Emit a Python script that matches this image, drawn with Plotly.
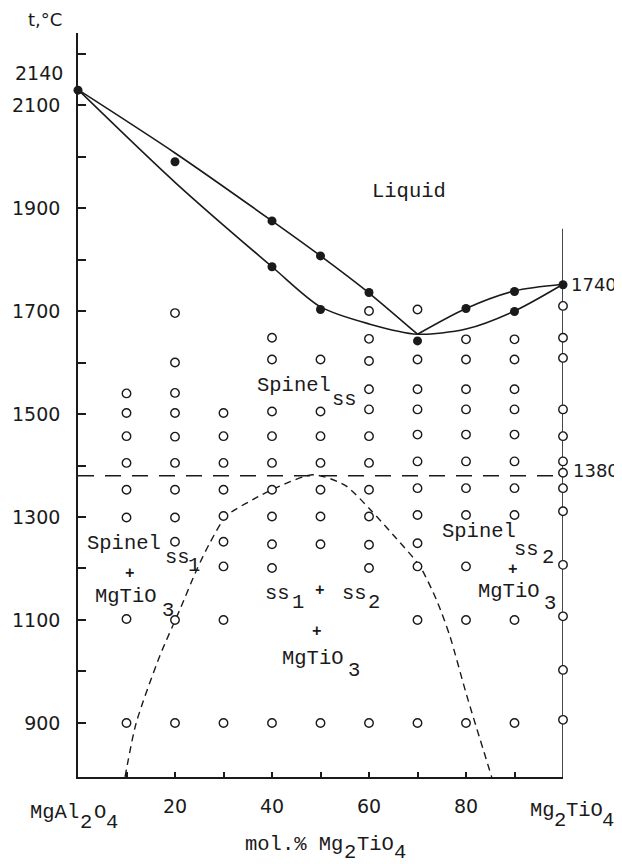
import plotly.graph_objects as go

# ---------------- data ----------------
# liquidus (upper curve), two branches meeting at the minimum
liq_left_x = [0, 20, 40, 50, 60, 70]
liq_left_t = [2130, 2007, 1875, 1807, 1735, 1655]
liq_right_x = [70, 80, 90, 100]
liq_right_t = [1655, 1705, 1739, 1752]
# solidus (lower curve)
sol_x = [0, 20, 40, 50, 60, 70, 80, 90, 100]
sol_t = [2130, 1950, 1786, 1708, 1675, 1655, 1665, 1700, 1752]
# miscibility gap (dashed dome)
gap_x = [9.7, 12, 16.9, 21, 24.5, 27.2, 30.6, 36.1, 41.6, 48.5, 55, 60.5, 65, 70.5, 74, 76.7, 80.1, 85.3]
gap_t = [795, 900, 1031, 1120, 1198, 1250, 1302, 1334, 1360, 1382, 1362, 1312, 1265, 1204, 1137, 1068, 955, 795]
eutectoid_t = 1380

# filled points (melting experiments)
filled_x = [0, 20, 40, 40, 50, 50, 60, 70, 80, 90, 90, 100]
filled_t = [2129, 1990, 1875, 1786, 1807, 1703, 1736, 1642, 1705, 1738, 1699, 1751]

# open points (annealing experiments), per composition column
col_10 = [1540, 1502, 1457, 1405, 1353, 1299, 1102, 900]
col_20 = [1696, 1600, 1541, 1502, 1456, 1405, 1353, 1299, 1252, 1100, 900]
col_30 = [1502, 1457, 1405, 1353, 1302, 1252, 1204, 1100, 900]
col_40 = [1648, 1606, 1505, 1457, 1405, 1353, 1301, 1247, 1201, 900]
col_50 = [1606, 1505, 1457, 1405, 1353, 1301, 1247, 900]
col_60 = [1700, 1646, 1603, 1548, 1509, 1457, 1405, 1353, 1301, 1246, 1201, 900]
col_70 = [1703, 1606, 1548, 1509, 1460, 1408, 1356, 1304, 1249, 1204, 1100, 900]
col_80 = [1645, 1606, 1548, 1509, 1460, 1408, 1356, 1304, 1204, 1100, 900]
col_90 = [1645, 1606, 1548, 1509, 1460, 1408, 1356, 1304, 1100, 900]
col_100 = [1710, 1648, 1609, 1509, 1457, 1408, 1386, 1356, 1311, 1207, 1107, 1003, 906]
columns = {10: col_10, 20: col_20, 30: col_30, 40: col_40, 50: col_50,
           60: col_60, 70: col_70, 80: col_80, 90: col_90, 100: col_100}

y_ticks = list(range(900, 2201, 100))
y_labels = ["900", "", "1100", "", "1300", "", "1500", "", "1700", "", "1900", "", "2100", ""]
x_ticks = [10, 20, 30, 40, 50, 60, 70, 80, 90]
x_labels = ["", "20", "", "40", "", "60", "", "80", ""]

# ---------------- figure ----------------
SANS = "DejaVu Sans"
MONO = "Liberation Mono"
INK = "#1a1a1a"
MONO_SIZE = 20.5
PLUS_SIZE = 16

# page body has an 8px margin; plot area sits at page px x 78..563, y 33..777
W, H = 614, 856
ML, MT, MR, MB = 70, 25, 59, 87
PX0, PY0 = ML + 8, MT + 8
PW, PH = W - ML - MR, H - MT - MB

open_x, open_t = [], []
for cx, temps in columns.items():
    open_x += [cx] * len(temps)
    open_t += temps

fig = go.Figure()
line_style = dict(color=INK, width=1.6, shape="spline", smoothing=0.8)
fig.add_trace(go.Scatter(x=liq_left_x, y=liq_left_t, mode="lines", line=line_style, cliponaxis=False))
fig.add_trace(go.Scatter(x=liq_right_x, y=liq_right_t, mode="lines", line=line_style, cliponaxis=False))
fig.add_trace(go.Scatter(x=sol_x, y=sol_t, mode="lines", line=line_style, cliponaxis=False))
fig.add_trace(go.Scatter(x=gap_x, y=gap_t, mode="lines",
                         line=dict(color=INK, width=1.4, dash="7px,5px", shape="spline", smoothing=0.7),
                         cliponaxis=False))
fig.add_trace(go.Scatter(x=[0, 100], y=[eutectoid_t, eutectoid_t], mode="lines",
                         line=dict(color=INK, width=1.6, dash="16px,11px"), cliponaxis=False))
fig.add_trace(go.Scatter(x=open_x, y=open_t, mode="markers", cliponaxis=False,
                         marker=dict(symbol="circle", size=8.5, color="white",
                                     line=dict(color=INK, width=1.4))))
fig.add_trace(go.Scatter(x=filled_x, y=filled_t, mode="markers", cliponaxis=False,
                         marker=dict(symbol="circle", size=9, color=INK,
                                     line=dict(color=INK, width=0))))

# right-hand boundary line at pure Mg2TiO4
fig.add_shape(type="line", x0=100, x1=100, y0=795, y1=1860, xref="x", yref="y",
              line=dict(color=INK, width=1.6), layer="below")


def T(text, px, py, size=MONO_SIZE, font=MONO, xanchor="left", box=True, weight="normal"):
    """Place a text at reference-page pixel position (px = anchor x, py = vertical centre)."""
    extra = {}
    if box:
        extra = dict(width=len(text) * 0.6 * size + 1, align="left")
    fig.add_annotation(text=text, x=(px - PX0) / PW, y=1 - (py - PY0) / PH,
                       xref="paper", yref="paper", showarrow=False,
                       xanchor=xanchor, yanchor="middle", borderpad=0,
                       font=dict(family=font, size=size, color=INK, weight=weight), **extra)


# axis-side numbers
T("t,°C", 45, 19, size=18, font=SANS, xanchor="center", box=False)
T("2140", 64, 73, size=19, font=SANS, xanchor="right", box=False)
T("1740", 570, 284, size=18, font=SANS, box=False)
T("1380", 572, 470, size=18, font=SANS, box=False)

# field labels (typewriter style, subscripts as lowered full-size characters)
T("Liquid", 409, 191, xanchor="center")

T("Spinel", 256, 385)
T("ss", 331, 399)

T("Spinel", 86, 543)
T("ss", 164, 557)
T("1", 187, 565)
T("+", 130, 574, size=PLUS_SIZE, xanchor="center", weight="bold")
T("MgTiO", 94, 596)
T("3", 161, 610)

T("ss", 264, 593)
T("1", 291, 602)
T("+", 320, 591, size=PLUS_SIZE, xanchor="center", weight="bold")
T("ss", 341, 593)
T("2", 367, 602)
T("+", 317, 632, size=PLUS_SIZE, xanchor="center", weight="bold")
T("MgTiO", 281, 658)
T("3", 347, 670)

T("Spinel", 441, 531)
T("ss", 513, 549)
T("2", 541, 557)
T("+", 513, 570, size=PLUS_SIZE, xanchor="center", weight="bold")
T("MgTiO", 477, 591)
T("3", 543, 603)

# composition end members and axis title
T("MgAl", 29, 812)
T("2", 79, 822)
T("O", 93, 812)
T("4", 105, 822)

T("Mg", 529, 810)
T("2", 553, 820)
T("TiO", 565, 810)
T("4", 601, 820)

T("mol.% Mg", 244, 845)
T("2", 343, 852)
T("TiO", 356, 845)
T("4", 393, 852)

fig.update_layout(
    width=W, height=H,
    margin=dict(l=ML, r=MR, t=MT, b=MB, autoexpand=False),
    paper_bgcolor="white", plot_bgcolor="white",
    showlegend=False,
    xaxis=dict(range=[0, 100], showgrid=False, zeroline=False, showline=True, automargin=False,
               linecolor=INK, linewidth=1.6, ticks="inside", ticklen=5, tickwidth=1.5,
               tickcolor=INK, tickvals=x_ticks, ticktext=x_labels,
               tickfont=dict(family=SANS, size=19, color=INK), ticklabelstandoff=11),
    yaxis=dict(range=[795, 2240], showgrid=False, zeroline=False, showline=True, automargin=False,
               linecolor=INK, linewidth=1.6, ticks="inside", ticklen=8, tickwidth=1.5,
               tickcolor=INK, tickvals=y_ticks, ticktext=y_labels,
               tickfont=dict(family=SANS, size=19, color=INK), ticklabelstandoff=12),
)

fig.write_html("out.html")
